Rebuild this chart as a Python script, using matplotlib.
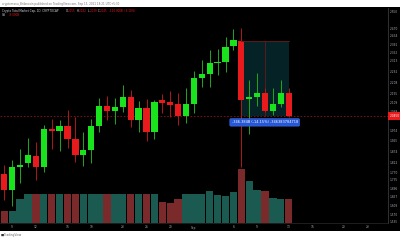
import numpy as np
import pandas as pd
import matplotlib
matplotlib.use('Agg')
import matplotlib.pyplot as plt
from matplotlib.patches import Rectangle

# Crypto Total Market Cap, daily candles (trillions USD), volume in billions
dates = pd.date_range('2021-08-08', '2021-09-13', freq='D')
opens = [1.762, 1.685, 1.800, 1.816, 1.853, 1.798, 1.982, 1.972, 1.997, 1.934,
         1.855, 1.879, 1.998, 2.095, 2.069, 2.090, 2.137, 2.026, 2.084, 1.969,
         2.124, 2.114, 2.103, 2.046, 2.103, 2.228, 2.247, 2.300, 2.308, 2.384,
         2.410, 2.129, 2.139, 2.158, 2.071, 2.103, 2.155]
highs = [1.808, 1.832, 1.884, 1.940, 1.920, 2.001, 2.030, 2.026, 2.074, 2.042,
         1.969, 2.030, 2.131, 2.142, 2.131, 2.195, 2.171, 2.118, 2.127, 2.123,
         2.152, 2.168, 2.158, 2.179, 2.263, 2.316, 2.365, 2.370, 2.426, 2.467,
         2.470, 2.219, 2.255, 2.180, 2.182, 2.219, 2.182]
lows = [1.638, 1.609, 1.722, 1.799, 1.735, 1.775, 1.885, 1.877, 1.888, 1.824,
        1.803, 1.819, 1.969, 2.026, 2.006, 2.066, 1.993, 1.969, 1.925, 1.934,
        2.061, 2.039, 2.001, 2.013, 2.061, 2.187, 2.184, 2.244, 2.260, 2.365,
        1.799, 1.958, 2.093, 2.064, 2.050, 2.090, 2.039]
closes = [1.686, 1.799, 1.806, 1.855, 1.798, 1.982, 1.972, 1.997, 1.934, 1.855,
          1.879, 1.998, 2.095, 2.069, 2.090, 2.137, 2.026, 2.084, 1.969, 2.114,
          2.109, 2.098, 2.045, 2.103, 2.229, 2.247, 2.300, 2.307, 2.381, 2.412,
          2.122, 2.139, 2.158, 2.071, 2.103, 2.155, 2.045]
volumes = [36, 36, 72, 87, 87, 87, 87, 87, 87, 87,
           87, 87, 87, 86, 86, 86, 86, 87, 88, 88,
           63, 61, 73, 86, 86, 86, 96, 84, 81, 93,
           161, 126, 99, 96, 76, 73, 73]

tick_dates = ['2021-08-09', '2021-08-12', '2021-08-16', '2021-08-19', '2021-08-23',
              '2021-08-26', '2021-08-29', '2021-09-01', '2021-09-06', '2021-09-09',
              '2021-09-13', '2021-09-16', '2021-09-20', '2021-09-23']
tick_labels = ['9', '12', '16', '19', '23', '26', '29', 'Sep', '6', '9', '13', '16', '20', '23']
price_ticks = [2.550, 2.470, 2.434, 2.391, 2.352, 2.313, 2.262, 2.208, 2.155, 2.109,
               2.068, 1.974, 1.925, 1.874, 1.822, 1.770, 1.735, 1.696, 1.657,
               1.609, 1.570, 1.535]

measure_text = '-346.384B (-14.15%) -346383784718'

bull = '#19e31c'
bear = '#e81a1c'
vol_bull = '#1a5a50'
vol_bear = '#7a2a2a'
axis_txt = '#a9acb5'

def px(x, y):
    return x / 400, 1 - y / 240

x = np.arange(len(dates))
opens, highs, lows, closes = map(np.array, (opens, highs, lows, closes))
up = closes >= opens

fig = plt.figure(figsize=(4, 2.4), dpi=100)
fig.patch.set_facecolor('black')

# white strips top and bottom
fig.patches.append(Rectangle((0, 1 - 7 / 240), 1, 7 / 240, transform=fig.transFigure,
                             fc='white', ec='none', zorder=0))
fig.patches.append(Rectangle((0, 0), 1, 9 / 240, transform=fig.transFigure,
                             fc='white', ec='none', zorder=0))
fig.text(*px(1.5, 3.5), 'cryptomanu_Brilancoin published on TradingView.com, Sep 15, 2021 18:21 UTC+5:30',
         fontsize=2.0, color='#777777', va='center')
fig.text(*px(1, 235), '\u25A0', fontsize=2.4, color='#333333', va='center')
fig.text(*px(3.5, 235), 'TradingView', fontsize=2.1, color='#666666', va='center')

rect = [0, 17 / 240, 388 / 400, 215 / 240]
xlim = ((0 - 4.3) / 7.9, (388 - 4.3) / 7.9)

# volume underneath
vax = fig.add_axes(rect)
vax.set_facecolor('black')
vax.bar(x, volumes, width=0.93, color=[vol_bull if u else vol_bear for u in up], zorder=1)
vax.set_ylim(0, 645)
vax.set_xlim(*xlim)
vax.axis('off')

# price candles on top
ax = fig.add_axes(rect)
ax.patch.set_visible(False)
ax.set_xlim(*xlim)
ax.set_ylim(1.5264, 2.5683)

colors = np.where(up, bull, bear)
wick_colors = np.where(up, '#1fa81f', '#b01818')
ax.vlines(x, lows, highs, colors=wick_colors, lw=0.7, zorder=3)
body_lo = np.minimum(opens, closes)
body_h = np.maximum(np.abs(closes - opens), 0.0015)
ax.bar(x, body_h, bottom=body_lo, width=0.8, color=colors, zorder=4)

# last price line
ax.axhline(closes[-1], color='#8a1515', lw=0.6, ls=(0, (2, 2)), zorder=2)

# price range measurement box
x0, x1 = x[30] - 0.08, x[-1]
ax.add_patch(Rectangle((x0, closes[-1]), x1 - x0, opens[30] - closes[-1],
                       fc='#06272b', ec='none', alpha=0.9, zorder=2))
ax.plot([x0, x1], [opens[30], opens[30]], color='#6a1818', lw=0.6, zorder=5)
ax.plot([(x0 + x1) / 2] * 2, [opens[30], closes[-1]], color='#6a1818', lw=0.6, zorder=2)
ax.annotate(measure_text, xy=((x0 + x1) / 2, closes[-1]), xytext=(0, -4.6),
            textcoords='offset points', ha='center', va='center', fontsize=2.5,
            color='white', zorder=6,
            bbox=dict(boxstyle='round,pad=0.5,rounding_size=0.3', fc='#2657d6', ec='#3d72f0', lw=0.4))

# axes styling
for s in ['top', 'left']:
    ax.spines[s].set_visible(False)
ax.spines['right'].set_color('#3a3a3a')
ax.spines['right'].set_linewidth(0.6)
ax.spines['bottom'].set_color('#2a2a2a')
ax.spines['bottom'].set_linewidth(0.5)
ax.yaxis.tick_right()
ax.set_yticks(price_ticks)
ax.set_yticklabels([f'{v:.3f}' for v in price_ticks])
tick_pos = [(pd.Timestamp(d) - dates[0]).days for d in tick_dates]
ax.set_xticks(tick_pos)
ax.set_xticklabels(tick_labels)
ax.tick_params(axis='y', length=0, pad=1.4, labelsize=2.1, labelcolor=axis_txt)
ax.tick_params(axis='x', length=0, pad=1.8, labelsize=2.1, labelcolor=axis_txt)

# last price tag
ax.annotate(f'{closes[-1]:.4f}', xy=(1, closes[-1]), xycoords=('axes fraction', 'data'),
            xytext=(1.2, 0), textcoords='offset points', ha='left', va='center',
            fontsize=2.1, color='white', annotation_clip=False, zorder=7,
            bbox=dict(boxstyle='square,pad=0.55', fc=bear, ec='none'))

# legend lines
chg = closes[-1] - closes[-2]
pct = chg / closes[-2] * 100
fs = 2.0
fig.text(*px(1.5, 11.2), 'Crypto Total Market Cap, 1D, CRYPTOCAP', fontsize=fs, color='#d1d4dc', va='center')
items = [('O', opens[-1], 65.5), ('H', highs[-1], 76.8), ('L', lows[-1], 87.6), ('C', closes[-1], 98)]
for lab, val, xp in items:
    fig.text(*px(xp, 11.2), lab, fontsize=fs, color='#d1d4dc', va='center')
    fig.text(*px(xp + 2.1, 11.2), f'{val:.3f}', fontsize=fs, color=bear, va='center')
fig.text(*px(109, 11.2), f'{chg * 1000:.3f}B ({pct:.2f}%)', fontsize=fs, color=bear, va='center')
fig.text(*px(1.5, 15.2), 'Vol', fontsize=fs, color='#d1d4dc', va='center')
fig.text(*px(8.5, 15.2), f'{volumes[-1]:.3f}B', fontsize=fs, color=bear, va='center')

fig.savefig('out.png', dpi=100, facecolor=fig.get_facecolor())
